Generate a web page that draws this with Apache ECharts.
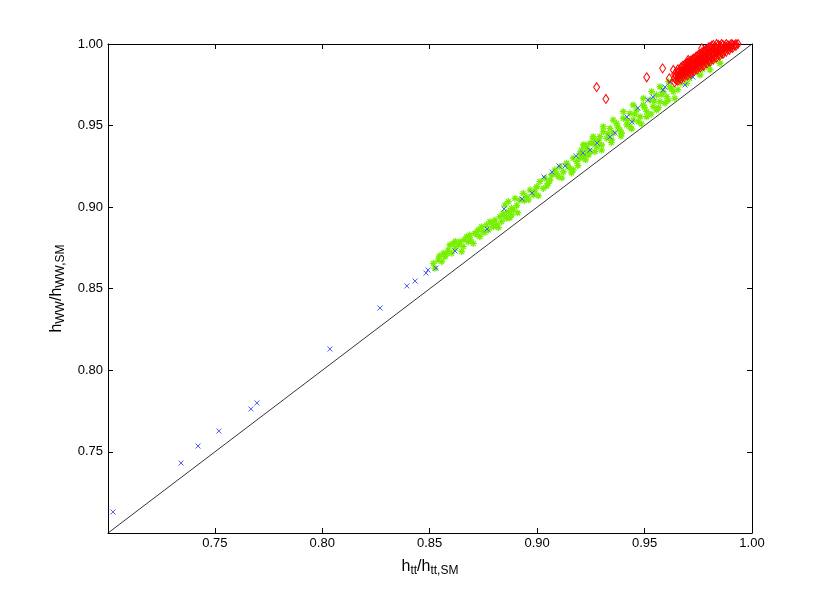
<!DOCTYPE html>
<html>
<head>
<meta charset="utf-8">
<script src="https://cdn.jsdelivr.net/npm/echarts@6/dist/echarts.min.js"></script>
<style>
  html, body { margin: 0; padding: 0; background: #fff; }
  #main { width: 830px; height: 600px; }
</style>
</head>
<body>
<div id="main"></div>
<script>
// axis range and tick labels
const axisMin = 0.7003
const axisMax = 1.0
const tickValues = [0.75, 0.80, 0.85, 0.90, 0.95, 1.00]
const diagonal = [[axisMin, axisMin], [axisMax, axisMax]]

// blue crosses
const bluePoints = [
  [0.7026, 0.7132], [0.7343, 0.7432], [0.7422, 0.7536], [0.7519, 0.7628],
  [0.7668, 0.7763], [0.7696, 0.7800], [0.8036, 0.8131], [0.8269, 0.8382],
  [0.8394, 0.8517], [0.8432, 0.8547], [0.8483, 0.8596], [0.8492, 0.8615],
  [0.8529, 0.8627], [0.8618, 0.8731], [0.8767, 0.8866], [0.8846, 0.8989],
  [0.8930, 0.9050], [0.8976, 0.9087], [0.9032, 0.9185], [0.9069, 0.9215],
  [0.9102, 0.9252], [0.9130, 0.9252], [0.9181, 0.9314], [0.9213, 0.9332],
  [0.9246, 0.9350], [0.9279, 0.9393], [0.9339, 0.9430], [0.9362, 0.9455],
  [0.9418, 0.9553], [0.9441, 0.9522], [0.9469, 0.9608], [0.9516, 0.9657],
  [0.9539, 0.9675], [0.9586, 0.9718], [0.9595, 0.9736], [0.9618, 0.9767],
  [0.9688, 0.9749], [0.9725, 0.9798], [0.9781, 0.9982], [0.9805, 0.9994],
  [0.9888, 1.0000]
]

// green stars
const greenPoints = [
  [0.8517, 0.8656], [0.8524, 0.8625], [0.8540, 0.8676], [0.8556, 0.8666],
  [0.8563, 0.8717], [0.8571, 0.8696], [0.8586, 0.8737], [0.8594, 0.8768],
  [0.8602, 0.8717], [0.8610, 0.8778], [0.8618, 0.8748], [0.8633, 0.8768],
  [0.8641, 0.8788], [0.8649, 0.8727], [0.8656, 0.8758], [0.8672, 0.8819],
  [0.8680, 0.8788], [0.8687, 0.8829], [0.8703, 0.8778], [0.8711, 0.8840],
  [0.8726, 0.8860], [0.8734, 0.8819], [0.8742, 0.8880], [0.8749, 0.8850],
  [0.8765, 0.8891], [0.8773, 0.8860], [0.8780, 0.8911], [0.8796, 0.8880],
  [0.8804, 0.8921], [0.8812, 0.8891], [0.8827, 0.8942], [0.8835, 0.8911],
  [0.8842, 0.8962], [0.8858, 0.8932], [0.8866, 0.8972], [0.8881, 0.8952],
  [0.8889, 0.8983],
  [0.8850, 0.9013], [0.8866, 0.9034], [0.8881, 0.8993], [0.8897, 0.9054],
  [0.8920, 0.9044], [0.8935, 0.9085], [0.8951, 0.9064], [0.8967, 0.9105],
  [0.8982, 0.9075], [0.8998, 0.9125], [0.9013, 0.9156], [0.9029, 0.9115],
  [0.9036, 0.9177], [0.9052, 0.9146], [0.9068, 0.9197], [0.9083, 0.9228],
  [0.9098, 0.9187], [0.9106, 0.9248], [0.9122, 0.9217], [0.9137, 0.9269],
  [0.9153, 0.9238], [0.9168, 0.9300], [0.9168, 0.9228], [0.9184, 0.9279],
  [0.9199, 0.9330], [0.9215, 0.9309], [0.9231, 0.9361], [0.9246, 0.9340],
  [0.9261, 0.9391], [0.9277, 0.9371],
  [0.9207, 0.9350], [0.9223, 0.9381], [0.9215, 0.9320], [0.9246, 0.9391],
  [0.9261, 0.9422], [0.9292, 0.9432], [0.9308, 0.9463], [0.9324, 0.9422],
  [0.9339, 0.9483], [0.9354, 0.9453], [0.9370, 0.9514], [0.9385, 0.9473],
  [0.9401, 0.9545], [0.9417, 0.9504], [0.9432, 0.9575], [0.9447, 0.9534],
  [0.9463, 0.9595], [0.9479, 0.9554], [0.9494, 0.9626], [0.9510, 0.9585],
  [0.9525, 0.9657], [0.9540, 0.9616], [0.9556, 0.9687], [0.9572, 0.9647],
  [0.9587, 0.9708], [0.9603, 0.9677], [0.9618, 0.9738], [0.9634, 0.9708],
  [0.9199, 0.9299], [0.9231, 0.9330], [0.9269, 0.9340], [0.9300, 0.9381],
  [0.9347, 0.9412], [0.9393, 0.9453], [0.9432, 0.9493], [0.9471, 0.9524],
  [0.9510, 0.9554], [0.9556, 0.9595], [0.9595, 0.9637], [0.9641, 0.9667],
  [0.9215, 0.9381], [0.9261, 0.9432], [0.9308, 0.9493], [0.9354, 0.9534],
  [0.9401, 0.9585], [0.9447, 0.9626], [0.9494, 0.9667], [0.9533, 0.9708],
  [0.9572, 0.9738], [0.9611, 0.9769],
  [0.9649, 0.9779], [0.9680, 0.9800], [0.9696, 0.9759], [0.9665, 0.9800],
  [0.9696, 0.9820], [0.9742, 0.9841], [0.9758, 0.9810], [0.9789, 0.9882],
  [0.9804, 0.9841], [0.9835, 0.9933], [0.9851, 0.9882], [0.9882, 0.9974],
  [0.8545, 0.8700], [0.8580, 0.8715], [0.8620, 0.8790], [0.8660, 0.8800],
  [0.8690, 0.8800], [0.8720, 0.8830], [0.8757, 0.8845], [0.8790, 0.8905],
  [0.8820, 0.8875], [0.8850, 0.8950], [0.8873, 0.8935], [0.8905, 0.9010],
  [0.8910, 0.8965], [0.8940, 0.9040], [0.8960, 0.9045], [0.8990, 0.9100],
  [0.9005, 0.9070], [0.9045, 0.9130], [0.9060, 0.9165], [0.9090, 0.9205],
  [0.9115, 0.9180], [0.9145, 0.9250], [0.9160, 0.9210], [0.9190, 0.9255],
  [0.9225, 0.9290], [0.9240, 0.9320], [0.9285, 0.9410], [0.9300, 0.9350],
  [0.9330, 0.9450], [0.9345, 0.9395], [0.9375, 0.9490], [0.9390, 0.9435],
  [0.9420, 0.9530], [0.9440, 0.9480], [0.9455, 0.9570], [0.9485, 0.9510],
  [0.9500, 0.9610], [0.9530, 0.9570], [0.9545, 0.9650], [0.9565, 0.9610],
  [0.9580, 0.9690], [0.9610, 0.9655], [0.9625, 0.9725], [0.9655, 0.9720],
  [0.9670, 0.9760], [0.9710, 0.9790], [0.9730, 0.9825], [0.9770, 0.9845],
  [0.9800, 0.9870], [0.9820, 0.9900], [0.9860, 0.9930], [0.9900, 0.9975]
]

// red diamonds
const redPoints = [
  [0.9277, 0.9735], [0.9320, 0.9663], [0.9510, 0.9796], [0.9584, 0.9851],
  [0.9634, 0.9841], [0.9615, 0.9790], [0.9703, 0.9902], [0.9766, 0.9974],
  [0.9640, 0.9765], [0.9640, 0.9790], [0.9640, 0.9815],
  [0.9655, 0.9775], [0.9655, 0.9800], [0.9655, 0.9825], [0.9655, 0.9845],
  [0.9670, 0.9785], [0.9670, 0.9810], [0.9670, 0.9835], [0.9670, 0.9858],
  [0.9685, 0.9797], [0.9685, 0.9822], [0.9685, 0.9847], [0.9685, 0.9872],
  [0.9700, 0.9808], [0.9700, 0.9832], [0.9700, 0.9858], [0.9700, 0.9885],
  [0.9715, 0.9820], [0.9715, 0.9845], [0.9715, 0.9870], [0.9715, 0.9898],
  [0.9730, 0.9832], [0.9730, 0.9858], [0.9730, 0.9885], [0.9730, 0.9912],
  [0.9745, 0.9844], [0.9745, 0.9870], [0.9745, 0.9898], [0.9745, 0.9928],
  [0.9760, 0.9856], [0.9760, 0.9882], [0.9760, 0.9910], [0.9760, 0.9940],
  [0.9775, 0.9868], [0.9775, 0.9895], [0.9775, 0.9925], [0.9775, 0.9955],
  [0.9790, 0.9880], [0.9790, 0.9908], [0.9790, 0.9938], [0.9790, 0.9968],
  [0.9805, 0.9892], [0.9805, 0.9920], [0.9805, 0.9950], [0.9805, 0.9982],
  [0.9820, 0.9904], [0.9820, 0.9932], [0.9820, 0.9962], [0.9820, 0.9995],
  [0.9835, 0.9916], [0.9835, 0.9945], [0.9835, 0.9975], [0.9835, 1.0000],
  [0.9850, 0.9928], [0.9850, 0.9958], [0.9850, 0.9988],
  [0.9865, 0.9940], [0.9865, 0.9968], [0.9865, 0.9995],
  [0.9880, 0.9952], [0.9880, 0.9978], [0.9880, 1.0000],
  [0.9895, 0.9964], [0.9895, 0.9988],
  [0.9910, 0.9976], [0.9910, 0.9996],
  [0.9925, 0.9988], [0.9925, 1.0000], [0.9935, 1.0000],
  [0.9648, 0.9778], [0.9648, 0.9803], [0.9648, 0.9828],
  [0.9663, 0.9790], [0.9663, 0.9815], [0.9663, 0.9840],
  [0.9678, 0.9800], [0.9678, 0.9827], [0.9678, 0.9852], [0.9678, 0.9866],
  [0.9693, 0.9812], [0.9693, 0.9838], [0.9693, 0.9862], [0.9693, 0.9880],
  [0.9708, 0.9825], [0.9708, 0.9850], [0.9708, 0.9876], [0.9708, 0.9892],
  [0.9723, 0.9838], [0.9723, 0.9864], [0.9723, 0.9890], [0.9723, 0.9906],
  [0.9738, 0.9850], [0.9738, 0.9876], [0.9738, 0.9904], [0.9738, 0.9920],
  [0.9753, 0.9862], [0.9753, 0.9890], [0.9753, 0.9918], [0.9753, 0.9935],
  [0.9768, 0.9874], [0.9768, 0.9902], [0.9768, 0.9932], [0.9768, 0.9950],
  [0.9783, 0.9886], [0.9783, 0.9915], [0.9783, 0.9945], [0.9783, 0.9962],
  [0.9798, 0.9898], [0.9798, 0.9928], [0.9798, 0.9958], [0.9798, 0.9978],
  [0.9813, 0.9910], [0.9813, 0.9940], [0.9813, 0.9970], [0.9813, 0.9990],
  [0.9828, 0.9922], [0.9828, 0.9952], [0.9828, 0.9982],
  [0.9843, 0.9934], [0.9843, 0.9964], [0.9843, 0.9994],
  [0.9858, 0.9946], [0.9858, 0.9975], [0.9858, 1.0000],
  [0.9873, 0.9958], [0.9873, 0.9985],
  [0.9888, 0.9968], [0.9888, 0.9992],
  [0.9903, 0.9980], [0.9903, 1.0000], [0.9918, 0.9992]
]

const chart = echarts.init(document.getElementById('main'))

const font = 'Liberation Sans, Arial, sans-serif'
const labelFmt = (v) => v.toFixed(2)
const nameRich = {
  a: { fontSize: 16, fontFamily: font, color: '#000', lineHeight: 18, verticalAlign: 'top' },
  b: { fontSize: 12, fontFamily: font, color: '#000', lineHeight: 14, verticalAlign: 'bottom', padding: [10, 0, 0, 0] }
}

const baseAxis = {
  type: 'value',
  min: axisMin,
  max: axisMax,
  axisLine: { show: true, onZero: false, lineStyle: { color: '#000', width: 1 } },
  axisTick: { show: true, inside: true, length: 5, customValues: tickValues, lineStyle: { color: '#000' } },
  splitLine: { show: false }
}

const option = {
  animation: false,
  backgroundColor: '#fff',
  grid: { left: 108, right: 78, top: 44, bottom: 67 },
  xAxis: [
    Object.assign({}, baseAxis, {
      position: 'bottom',
      axisLabel: { customValues: tickValues, formatter: labelFmt, color: '#000', fontSize: 13, fontFamily: font, margin: 4 },
      name: '{a|h}{b|tt}{a|/h}{b|tt,SM}',
      nameLocation: 'middle',
      nameGap: 17,
      nameTextStyle: { rich: nameRich }
    }),
    Object.assign({}, baseAxis, { position: 'top', axisLabel: { show: false } })
  ],
  yAxis: [
    Object.assign({}, baseAxis, {
      position: 'left',
      axisLabel: { customValues: tickValues, formatter: labelFmt, color: '#000', fontSize: 13, fontFamily: font, margin: 5 },
      name: '{a|h}{b|WW}{a|/h}{b|WW,SM}',
      nameLocation: 'middle',
      nameGap: 34,
      nameTextStyle: { rich: nameRich }
    }),
    Object.assign({}, baseAxis, { position: 'right', axisLabel: { show: false } })
  ],
  series: [
    {
      type: 'line',
      data: diagonal,
      symbol: 'none',
      silent: true,
      lineStyle: { color: '#000', width: 0.8 },
      z: 1
    },
    {
      name: 'green',
      type: 'scatter',
      data: greenPoints,
      symbol: 'path://M5,0L5,10M0,5L10,5M1.5,1.5L8.5,8.5M1.5,8.5L8.5,1.5',
      symbolSize: 7,
      itemStyle: { color: 'transparent', borderColor: '#76f000', borderWidth: 1.3, opacity: 1 },
      z: 2
    },
    {
      name: 'blue',
      type: 'scatter',
      data: bluePoints,
      symbol: 'path://M0,0L10,10M10,0L0,10',
      symbolSize: 5,
      itemStyle: { color: 'transparent', borderColor: '#4a5cff', borderWidth: 1, opacity: 1 },
      z: 3
    },
    {
      name: 'red',
      type: 'scatter',
      data: redPoints,
      symbol: 'diamond',
      symbolSize: [6, 9],
      itemStyle: { color: 'transparent', borderColor: '#ff0000', borderWidth: 1, opacity: 1 },
      z: 4
    }
  ]
}

chart.setOption(option)
</script>
</body>
</html>
